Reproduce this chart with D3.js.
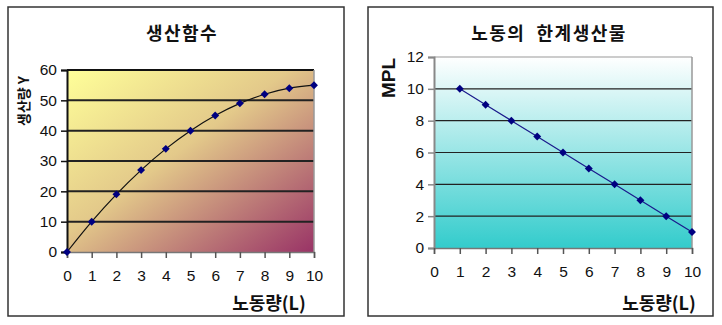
<!DOCTYPE html>
<html><head><meta charset="utf-8">
<script src="https://cdn.jsdelivr.net/npm/d3@7"></script>
<style>
body{margin:0;background:#fff;}
svg{display:block;}
.tick text{font-family:"Liberation Sans",Arial,sans-serif;font-size:15.5px;fill:#111;}
.title{font-family:"Noto Sans CJK KR",sans-serif;font-weight:bold;font-size:17.5px;fill:#111;white-space:pre;}
.main{font-size:18px;letter-spacing:1.5px;}
</style></head>
<body>
<svg id="c" width="722" height="325"></svg>
<script>
const labor = [0,1,2,3,4,5,6,7,8,9,10];
const output = [0,10,19,27,34,40,45,49,52,54,55];
const mplLabor = [1,2,3,4,5,6,7,8,9,10];
const mplValues = [10,9,8,7,6,5,4,3,2,1];
const xTicks = [0,1,2,3,4,5,6,7,8,9,10];
const yTicksLeft = [0,10,20,30,40,50,60];
const yTicksRight = [0,2,4,6,8,10,12];
const titleLeft = "생산함수";
const titleRight = "노동의  한계생산물";
const xTitle = "노동량(L)";
const yTitleLeft = "생산량 Y";
const yTitleRight = "MPL";

const svg = d3.select("#c");
const defs = svg.append("defs");
const g1 = defs.append("linearGradient").attr("id","gradL").attr("x1","0").attr("y1","0").attr("x2","1").attr("y2","1");
g1.append("stop").attr("offset","0").attr("stop-color","#ffff99");
g1.append("stop").attr("offset","0.45").attr("stop-color","#e3c98a");
g1.append("stop").attr("offset","1").attr("stop-color","#993366");
const g2 = defs.append("linearGradient").attr("id","gradR").attr("x1","0").attr("y1","0").attr("x2","0").attr("y2","1");
g2.append("stop").attr("offset","0").attr("stop-color","#ffffff");
g2.append("stop").attr("offset","1").attr("stop-color","#33cccc");

function panel(o){
  const {fx0,fx1,fy0,fy1,px0,px1,py0,py1,xDom,yDom,yTicks,grad,xs,ys,curve,lineColor,axisColor,title,titleX,yTitle,yTitleX,yTitleY,yTitleSize,yTitleFont,xTitleX,topColor}=o;
  svg.append("rect").attr("x",fx0).attr("y",fy0).attr("width",fx1-fx0).attr("height",fy1-fy0)
    .attr("fill","#fff").attr("stroke","#333").attr("stroke-width",1.5);
  const x = d3.scaleLinear().domain(xDom).range([px0,px1]);
  const y = d3.scaleLinear().domain(yDom).range([py1,py0]);
  svg.append("rect").attr("x",px0).attr("y",py0).attr("width",px1-px0).attr("height",py1-py0).attr("fill",`url(#${grad})`);
  svg.append("g").selectAll("line").data(yTicks.filter(d=>d>yDom[0])).join("line")
    .attr("x1",px0).attr("x2",px1).attr("y1",d=>y(d)).attr("y2",d=>y(d))
    .attr("stroke",d=>d===yDom[1]?topColor:"#222").attr("stroke-width",o.gridW);
  svg.append("line").attr("x1",px1).attr("x2",px1).attr("y1",py0).attr("y2",py1).attr("stroke","#999").attr("stroke-width",1.5);
  const ya = svg.append("g").attr("transform",`translate(${px0},0)`)
    .call(d3.axisLeft(y).tickValues(yTicks).tickSize(6).tickPadding(4));
  ya.select(".domain").attr("stroke",axisColor).attr("stroke-width",2);
  ya.selectAll(".tick line").attr("stroke",axisColor).attr("stroke-width",1.5);
  const xa = svg.append("g").attr("transform",`translate(0,${py1})`)
    .call(d3.axisBottom(x).tickValues(xTicks).tickSize(6).tickPadding(12));
  xa.select(".domain").attr("stroke","#777").attr("stroke-width",1.5);
  xa.selectAll(".tick line").attr("stroke","#555").attr("stroke-width",1.5);
  const pts = xs.map((v,i)=>[v,ys[i]]);
  svg.append("path").datum(pts).attr("fill","none").attr("stroke",lineColor).attr("stroke-width",1.2)
    .attr("d",d3.line().x(d=>x(d[0])).y(d=>y(d[1])).curve(curve));
  svg.append("g").selectAll("path").data(pts).join("path")
    .attr("transform",d=>`translate(${x(d[0])},${y(d[1])})`)
    .attr("d",d3.symbol(d3.symbolDiamond2,40)).attr("fill","#000080");
  svg.append("text").attr("class","title main").attr("x",titleX).attr("y",40).attr("text-anchor","middle").text(title);
  svg.append("text").attr("class","title").attr("x",xTitleX).attr("y",310).attr("text-anchor","middle").style("font-size","18px").text(xTitle);
  svg.append("text").attr("class","title").attr("transform",`translate(${yTitleX},${yTitleY}) rotate(-90)`)
    .attr("text-anchor","middle").attr("dy","0.35em").style("font-size",yTitleSize).style("font-family",yTitleFont).text(yTitle);
}

panel({fx0:8,fx1:344,fy0:7,fy1:316,px0:67,px1:314,py0:70,py1:252,xDom:[0,10],yDom:[0,60],yTicks:yTicksLeft,
  grad:"gradL",xs:labor,ys:output,curve:d3.curveMonotoneX,lineColor:"#111",axisColor:"#111",
  title:titleLeft,titleX:182,yTitle:yTitleLeft,yTitleX:24,yTitleY:101,yTitleSize:"14px",yTitleFont:null,xTitleX:269,topColor:"#111",gridW:2});
panel({fx0:368,fx1:713,fy0:7,fy1:316,px0:434,px1:692,py0:57,py1:248,xDom:[0,10],yDom:[0,12],yTicks:yTicksRight,
  grad:"gradR",xs:mplLabor,ys:mplValues,curve:d3.curveLinear,lineColor:"#1a1a8c",axisColor:"#888",
  title:titleRight,titleX:549,yTitle:yTitleRight,yTitleX:388,yTitleY:78,yTitleSize:"19px",yTitleFont:"'Liberation Sans',Arial,sans-serif",xTitleX:659,topColor:"#999",gridW:1.2});
</script>
</body></html>
